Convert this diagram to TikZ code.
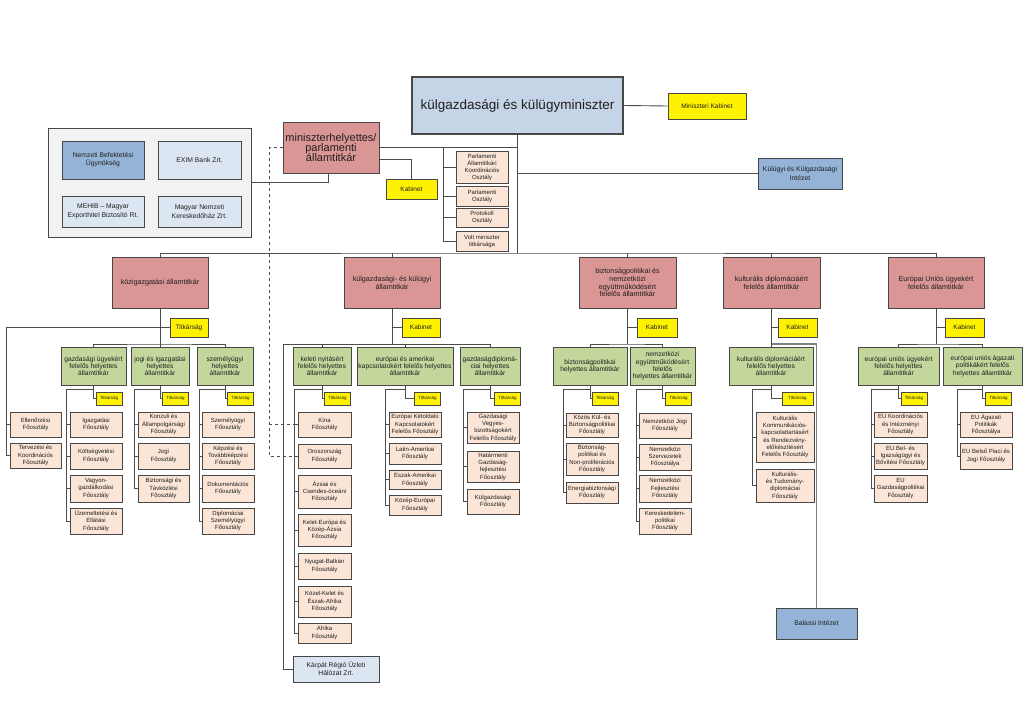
\documentclass[tikz,border=0pt]{standalone}
\usepackage{fontspec}
\setmainfont{Liberation Sans}
\usepackage{tikz}
\usetikzlibrary{positioning}
\definecolor{minblue}{HTML}{C5D4E6}
\definecolor{midblue}{HTML}{95B3D7}
\definecolor{ltblue}{HTML}{DCE6F2}
\definecolor{rose}{HTML}{D99694}
\definecolor{sage}{HTML}{C3D69B}
\definecolor{peach}{HTML}{FBE5D6}
\definecolor{grpgray}{HTML}{F2F2F2}
\setlength{\lineskiplimit}{-5pt}
\tikzstyle{conn} = [draw=black!70, line width=0.9pt]
\tikzstyle{box} = [draw=black!72, line width=1pt, align=center, inner sep=0.4pt, text=black!88]
\tikzstyle{fo} = [box, fill=peach, minimum width=52, font=\fontsize{6}{7.3}\selectfont]
\tikzstyle{hat} = [box, fill=sage, minimum height=38, font=\fontsize{6.7}{7.3}\selectfont]
\tikzstyle{allt} = [box, fill=rose, minimum height=51, font=\fontsize{7.2}{7.8}\selectfont]
\tikzstyle{kab} = [box, fill=yellow, minimum height=19, font=\fontsize{6.5}{7.5}\selectfont]
\tikzstyle{titk} = [box, fill=yellow, line width=0.8pt, minimum width=26, minimum height=13, font=\fontsize{4.5}{5}\selectfont]
\tikzstyle{intez} = [box, font=\fontsize{6.8}{8.3}\selectfont]

\begin{document}
\begin{tikzpicture}[x=1pt, y=-1pt]

	\useasboundingbox[fill=white] (0,0) rectangle (1024,717);

	% miniszter
	\node[box, fill=minblue, line width=1.5pt, minimum width=211, minimum height=57, font=\fontsize{13.5}{15}\selectfont] (min) at (517.5,105.5) {külgazdasági és külügyminiszter};
	\node[kab, minimum width=78, minimum height=26] (mkab) at (707,106) {Miniszteri Kabinet};
	\node[intez, fill=midblue, minimum width=84, minimum height=31] (kki) at (800,173.5) {Külügyi és Külgazdasági\\Intézet};
	\node[box, fill=rose, minimum width=96, minimum height=51, font=\fontsize{11}{9.6}\selectfont] (mh) at (331,147.5) {miniszterhelyettes/\\parlamenti\\államtitkár};
	\node[kab, minimum width=51, minimum height=20] (mhkab) at (411.5,189) {Kabinet};

	% cegek
	\node[box, fill=grpgray, minimum width=203, minimum height=109] (grp) at (149.5,182.5) {};
	\node[intez, fill=midblue, minimum width=82, minimum height=38] (nbu) at (103,160) {Nemzeti Befektetési\\Ügynökség};
	\node[intez, fill=ltblue, minimum width=83, minimum height=38] (exim) at (199.5,160) {EXIM Bank Zrt.};
	\node[intez, fill=ltblue, minimum width=82, minimum height=31] (mehib) at (103,211.5) {MEHIB – Magyar\\Exporthitel Biztosító Rt.};
	\node[intez, fill=ltblue, minimum width=83, minimum height=31] (mnkh) at (199.5,211.5) {Magyar Nemzeti\\Kereskedőház Zrt.};

	% osztalyok
	\node[fo, font=\fontsize{6}{7}\selectfont, minimum height=32] (p1) at (482,167) {Parlamenti\\Államtitkári\\Koordinációs\\Osztály};
	\node[fo, font=\fontsize{6}{7}\selectfont, minimum height=20] (p2) at (482,196) {Parlamenti\\Osztály};
	\node[fo, font=\fontsize{6}{7}\selectfont, minimum height=19] (p3) at (482,217.5) {Protokoll\\Osztály};
	\node[fo, font=\fontsize{6}{7}\selectfont, minimum height=20] (p4) at (482,241) {Volt miniszter\\titkársága};

	% allamtitkarok
	\node[allt, minimum width=96] (kozig) at (160,282.5) {közigazgatási államtitkár};
	\node[allt, minimum width=96] (kulg) at (392,282.5) {külgazdasági- és külügyi\\államtitkár};
	\node[allt, minimum width=97] (bizt) at (627.5,282.5) {biztonságpolitikai és\\nemzetközi\\együttműködésért\\felelős államtitkár};
	\node[allt, minimum width=97] (kult) at (771.5,282.5) {kulturális diplomáciáért\\felelős államtitkár};
	\node[allt, minimum width=96] (eu) at (936,282.5) {Európai Uniós ügyekért\\felelős államtitkár};

	\node[kab, minimum width=38] (kozigT) at (189,327.5) {Titkárság};
	\node[kab, minimum width=38] (kulgK) at (421,327.5) {Kabinet};
	\node[kab, minimum width=40] (biztK) at (657,327.5) {Kabinet};
	\node[kab, minimum width=39] (kultK) at (797.5,327.5) {Kabinet};
	\node[kab, minimum width=39] (euK) at (964.5,327.5) {Kabinet};

	% helyettes allamtitkarok
	\node[hat, minimum width=65] (gazd) at (93.5,366) {gazdasági ügyekért\\felelős helyettes\\államtitkár};
	\node[hat, minimum width=58] (jogi) at (160,366) {jogi és igazgatási\\helyettes\\államtitkár};
	\node[hat, minimum width=56] (szem) at (225,366) {személyügyi\\helyettes\\államtitkár};
	\node[hat, minimum width=58] (keleti) at (322,366) {keleti nyitásért\\felelős helyettes\\államtitkár};
	\node[hat, minimum width=96] (euam) at (405,366) {európai és amerikai\\kapcsolatokért felelős helyettes\\államtitkár};
	\node[hat, minimum width=60] (gdipl) at (490,366) {gazdaságdiplomá-\\ciai helyettes\\államtitkár};
	\node[hat, minimum width=74] (bpol) at (590,366) {biztonságpolitikai\\helyettes államtitkár};
	\node[hat, minimum width=65] (nemz) at (662.5,366) {nemzetközi\\együttműködésért\\felelős\\helyettes államtitkár};
	\node[hat, minimum width=84] (kultd) at (771,366) {kulturális diplomáciáért\\felelős helyettes\\államtitkár};
	\node[hat, minimum width=81] (euu) at (898.5,366) {európai uniós ügyekért\\felelős helyettes\\államtitkár};
	\node[hat, minimum width=79] (eua) at (982.5,366) {európai uniós ágazati\\politikákért felelős\\helyettes államtitkár};

	\node[titk] (tgazd) at (109,398.5) {Titkárság};
	\node[titk] (tjogi) at (175.5,398.5) {Titkárság};
	\node[titk] (tszem) at (240.5,398.5) {Titkárság};
	\node[titk] (tkeleti) at (337.5,398.5) {Titkárság};
	\node[titk] (teuam) at (427.5,398.5) {Titkárság};
	\node[titk] (tgdipl) at (507.5,398.5) {Titkárság};
	\node[titk] (tbpol) at (605,398.5) {Titkárság};
	\node[titk] (tnemz) at (678.5,398.5) {Titkárság};
	\node[titk, minimum width=31] (tkultd) at (797.5,398.5) {Titkárság};
	\node[titk] (teuu) at (914,398.5) {Titkárság};
	\node[titk] (teua) at (998.5,398.5) {Titkárság};

	% foosztalyok
	\node[fo, minimum width=51, minimum height=25] (ell) at (35.5,424.5) {Ellenőrzési\\Főosztály};
	\node[fo, minimum width=51, minimum height=25] (terv) at (35.5,455.5) {Tervezési és\\Koordinációs\\Főosztály};

	\node[fo, minimum height=25] (igazg) at (96,424.5) {Igazgatási\\Főosztály};
	\node[fo, minimum height=26] (koltseg) at (96,456) {Költségvetési\\Főosztály};
	\node[fo, minimum height=27] (vagyon) at (96,488.5) {Vagyon-\\gazdálkodási\\Főosztály};
	\node[fo, minimum height=26] (uzem) at (96,521) {Üzemeltetési és\\Ellátási\\Főosztály};

	\node[fo, minimum width=51, minimum height=25] (konz) at (163.5,424.5) {Konzuli és\\Állampolgársági\\Főosztály};
	\node[fo, minimum width=51, minimum height=26] (jogif) at (163.5,456) {Jogi\\Főosztály};
	\node[fo, minimum width=51, minimum height=27] (bizttav) at (163.5,488.5) {Biztonsági és\\Távközlési\\Főosztály};

	\node[fo, minimum height=25] (szemf) at (228,424.5) {Személyügyi\\Főosztály};
	\node[fo, minimum height=26] (kepz) at (228,456) {Képzési és\\Továbbképzési\\Főosztály};
	\node[fo, minimum height=27] (dok) at (228,488.5) {Dokumentációs\\Főosztály};
	\node[fo, minimum height=26] (dipl) at (228,521) {Diplomáciai\\Személyügyi\\Főosztály};

	\node[fo, minimum width=53, minimum height=25] (kina) at (324.5,424.5) {Kína\\Főosztály};
	\node[fo, minimum width=53, minimum height=24] (orosz) at (324.5,456) {Oroszország\\Főosztály};
	\node[fo, minimum width=53, minimum height=33] (azsia) at (324.5,491.5) {Ázsiai és\\Csendes-óceáni\\Főosztály};
	\node[fo, minimum width=53, minimum height=32] (keleur) at (324.5,530) {Kelet-Európa és\\Közép-Ázsia\\Főosztály};
	\node[fo, minimum width=53, minimum height=26] (nyb) at (324.5,566) {Nyugat-Balkán\\Főosztály};
	\node[fo, minimum width=53, minimum height=31] (kozkel) at (324.5,601.5) {Közel-Kelet és\\Észak-Afrika\\Főosztály};
	\node[fo, minimum width=53, minimum height=20] (afr) at (324.5,633) {Afrika\\Főosztály};

	\node[fo, minimum height=25] (ekk) at (415,424.5) {Európai Kétoldalú\\Kapcsolatokért\\Felelős Főosztály};
	\node[fo, minimum height=21] (latam) at (415,453.5) {Latin-Amerikai\\Főosztály};
	\node[fo, minimum height=19] (eszam) at (415,479.5) {Észak-Amerikai\\Főosztály};
	\node[fo, minimum height=20] (kozeu) at (415,505) {Közép-Európai\\Főosztály};

	\node[fo, minimum height=31] (gvb) at (493,427.5) {Gazdasági\\Vegyes-\\bizottságokért\\Felelős Főosztály};
	\node[fo, minimum height=31] (hatm) at (493,466.5) {Határmenti\\Gazdaság-\\fejlesztési\\Főosztály};
	\node[fo, minimum height=25] (kulgf) at (493,501.5) {Külgazdasági\\Főosztály};

	\node[fo, minimum height=24] (kkbp) at (592,425) {Közös Kül- és\\Biztonságpolitikai\\Főosztály};
	\node[fo, minimum height=32] (bnp) at (592,459) {Biztonság-\\politikai és\\Non-proliferációs\\Főosztály};
	\node[fo, minimum height=21] (energ) at (592,492.5) {Energiabiztonsági\\Főosztály};

	\node[fo, minimum height=25] (njog) at (665,425.5) {Nemzetközi Jogi\\Főosztály};
	\node[fo, minimum height=26] (nszerv) at (665,457) {Nemzetközi\\Szervezetek\\Főosztálya};
	\node[fo, minimum height=27] (nfejl) at (665,488.5) {Nemzetközi\\Fejlesztési\\Főosztály};
	\node[fo, minimum height=26] (kerpol) at (665,521) {Kereskedelem-\\politikai\\Főosztály};

	\node[fo, minimum width=58, minimum height=50] (kkk) at (785,437) {Kulturális\\Kommunikációs-\\kapcsolattartásért\\és Rendezvény-\\előkészítésért\\Felelős Főosztály};
	\node[fo, minimum width=58, minimum height=33] (ktd) at (785,485.5) {Kulturális-\\és Tudomány-\\diplomáciai\\Főosztály};

	\node[fo, minimum width=53, minimum height=25] (euko) at (900.5,424.5) {EU Koordinációs\\és Intézményi\\Főosztály};
	\node[fo, minimum width=53, minimum height=26] (eubel) at (900.5,456) {EU Bel- és\\Igazságügyi és\\Bővítési Főosztály};
	\node[fo, minimum width=53, minimum height=27] (eugp) at (900.5,488.5) {EU\\Gazdaságpolitikai\\Főosztály};

	\node[fo, minimum height=25] (euap) at (986,424.5) {EU Ágazati\\Politikák\\Főosztálya};
	\node[fo, minimum height=26] (eubp) at (986,456) {EU Belső Piaci és\\Jogi Főosztály};

	% intezetek
	\node[intez, fill=ltblue, minimum width=86, minimum height=26] (karpat) at (336,669) {Kárpát Régió Üzleti\\Hálózat Zrt.};
	\node[intez, fill=midblue, minimum width=81, minimum height=31] (balassi) at (816.5,623.5) {Balassi Intézet};

	% vonalak a miniszter korul
	\coordinate (bus) at (517.5,253);
	\draw[conn] (min.east) -- (mkab.west);
	\draw[conn] (min.south) -- (bus);
	\draw[conn] (min.south |- kki.west) -- (kki.west);
	\draw[conn] (mh.east) -- (min.south |- mh.east);
	\draw[conn] ([yshift=-12pt]mh.east) -| (mhkab.north);
	\draw[conn] (grp.east) -| ([xshift=-3pt]mh.south);
	\coordinate (pL) at (443,147.5);
	\draw[conn] (pL) |- (p4.west);
	\foreach \n in {p1,p2,p3} \draw[conn] (pL |- \n.west) -- (\n.west);

	\coordinate (dL) at (269,147.5);
	\draw[conn, dashed, line width=0.6pt] (mh.west) -- (dL) |- (orosz.west);
	\draw[conn, dashed, line width=0.6pt] (dL |- kina.west) -- (kina.west);

	% allamtitkari sin
	\draw[conn] (kozig.north) |- (bus) -| (eu.north);
	\foreach \n in {kulg,bizt,kult} \draw[conn] (\n.north) -- (\n.north |- bus);

	\draw[conn] (kozig.south) -- (jogi.north);
	\draw[conn] (kozig.south |- kozigT.west) -- (kozigT.west);
	\coordinate (kzL) at (6,327.5);
	\draw[conn] (kozig.south |- kzL) -- (kzL) |- (terv.west);
	\coordinate (kzB) at (160,344);
	\draw[conn] (gazd.north) |- (kzB) -| (szem.north);

	\coordinate (kgB) at (283,344);
	\draw[conn] (kulg.south) -- (kulg.south |- kgB);
	\draw[conn] (kulg.south |- kulgK.west) -- (kulgK.west);
	\draw[conn] (karpat.west) -| (kgB) -| (gdipl.north);
	\foreach \n in {keleti,euam} \draw[conn] (\n.north) -- (\n.north |- kgB);

	\coordinate (bzB) at (627.5,344);
	\draw[conn] (bizt.south) -- (bzB);
	\draw[conn] (bizt.south |- biztK.west) -- (biztK.west);
	\draw[conn] (bpol.north) |- (bzB) -| (nemz.north);

	\coordinate (kbB) at (816.5,344);
	\draw[conn] (kult.south) -- (kult.south |- kultd.north);
	\draw[conn] (kult.south |- kultK.west) -- (kultK.west);
	\draw[conn, draw=black!50, line width=1.4pt] (kult.south |- kbB) -| (balassi.north);

	\coordinate (euB) at (936,344);
	\draw[conn] (eu.south) -- (euB);
	\draw[conn] (eu.south |- euK.west) -- (euK.west);
	\draw[conn] (euu.north) |- (euB) -| (eua.north);

	% helyettesek alatt
	\foreach \d/\l/\last in {gazd/66/uzem, jogi/134/bizttav, szem/199/dipl, keleti/294/afr, euam/385/kozeu, gdipl/463/kulgf, bpol/563/energ, nemz/636/kerpol, kultd/752/ktd, euu/871/eugp, eua/957/eubp}{
		\draw[conn] (\d.south) |- (t\d.west);
		\draw[conn] (\d.south |- 0,389) -- (\l,389) |- (\last.west);
	}
	\foreach \n/\l in {ell/6, igazg/66, koltseg/66, vagyon/66, konz/134, jogif/134, szemf/199, kepz/199, dok/199, kina/294, orosz/294, azsia/294, keleur/294, nyb/294, kozkel/294, ekk/385, latam/385, eszam/385, gvb/463, hatm/463, kkbp/563, bnp/563, njog/636, nszerv/636, nfejl/636, kkk/752, euko/871, eubel/871, euap/957}
		\draw[conn] (\l,0 |- \n.west) -- (\n.west);

\end{tikzpicture}
\end{document}
